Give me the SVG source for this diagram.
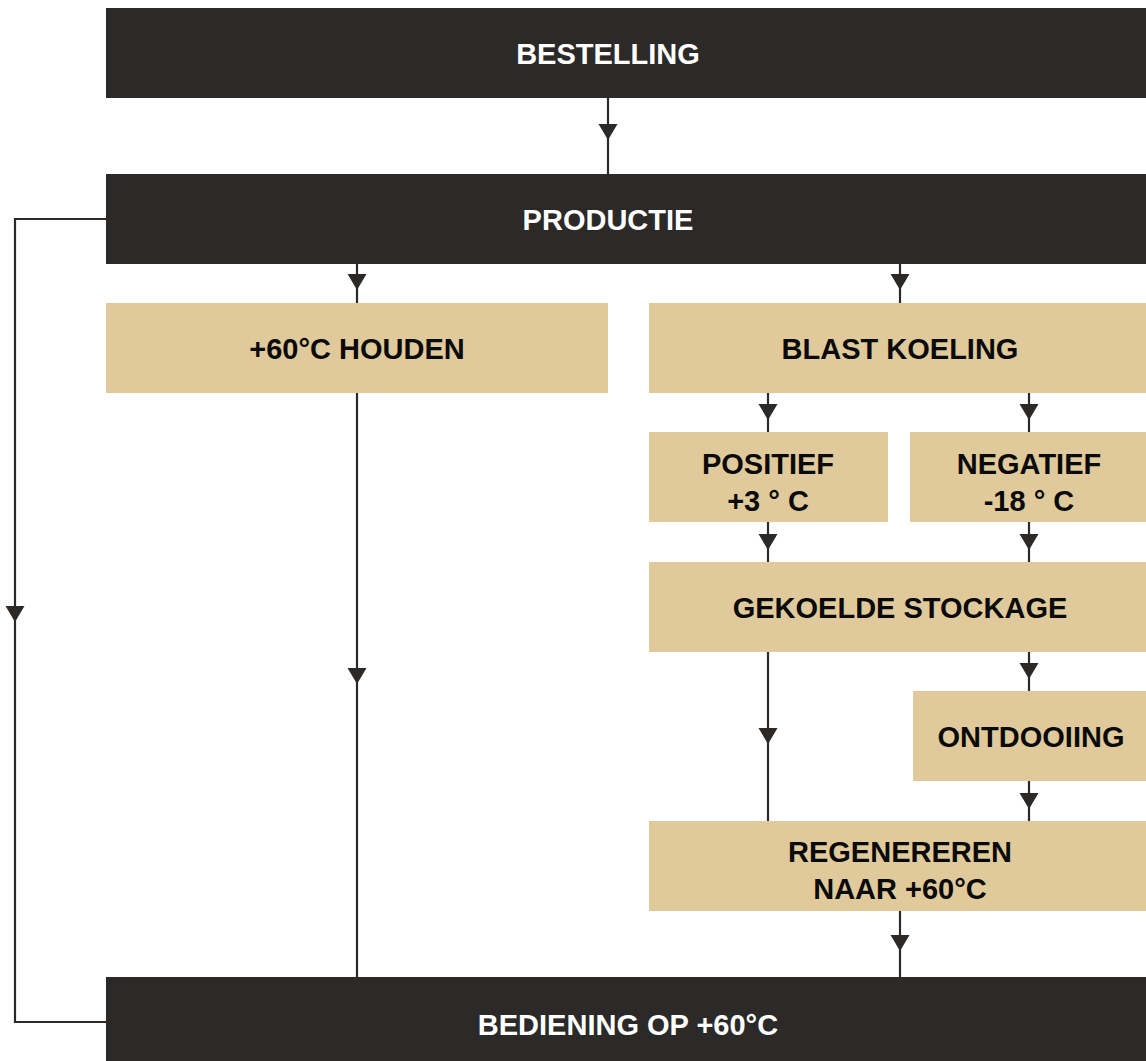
<svg xmlns="http://www.w3.org/2000/svg" width="1146" height="1061" viewBox="0 0 1146 1061">
<style>
.dark{fill:#2b2a28}
.tan{fill:#e0ca9b}
.lw{font-family:"Liberation Sans",Arial,sans-serif;font-weight:bold;font-size:29px;fill:#ffffff;text-anchor:middle}
.lb{font-family:"Liberation Sans",Arial,sans-serif;font-weight:bold;font-size:29px;fill:#0a0a0a;text-anchor:middle}
.ln{fill:none;stroke:#2b2a28;stroke-width:2.2}
</style>
<defs>
<path id="ah" d="M-9.5,-16 L9.5,-16 L0,0 Z" fill="#2b2a28"/>
</defs>
<rect width="1146" height="1061" fill="#ffffff"/>
<g id="connectors">
<line class="ln" x1="608" y1="98" x2="608" y2="174"/>
<use href="#ah" x="608" y="140"/>
<polyline class="ln" points="106,219 15,219 15,1022 106,1022"/>
<use href="#ah" x="15" y="622"/>
<line class="ln" x1="357" y1="264" x2="357" y2="303"/>
<use href="#ah" x="357" y="290"/>
<line class="ln" x1="900" y1="264" x2="900" y2="303"/>
<use href="#ah" x="900" y="290"/>
<line class="ln" x1="357" y1="393" x2="357" y2="977"/>
<use href="#ah" x="357" y="684"/>
<line class="ln" x1="768" y1="393" x2="768" y2="432"/>
<use href="#ah" x="768" y="420"/>
<line class="ln" x1="1029" y1="393" x2="1029" y2="432"/>
<use href="#ah" x="1029" y="420"/>
<line class="ln" x1="768" y1="522" x2="768" y2="562"/>
<use href="#ah" x="768" y="550"/>
<line class="ln" x1="1029" y1="522" x2="1029" y2="562"/>
<use href="#ah" x="1029" y="550"/>
<line class="ln" x1="768" y1="652" x2="768" y2="821"/>
<use href="#ah" x="768" y="744"/>
<line class="ln" x1="1029" y1="652" x2="1029" y2="691"/>
<use href="#ah" x="1029" y="679"/>
<line class="ln" x1="1029" y1="781" x2="1029" y2="821"/>
<use href="#ah" x="1029" y="809"/>
<line class="ln" x1="900" y1="911" x2="900" y2="977"/>
<use href="#ah" x="900" y="951"/>
</g>
<g id="bestelling"><rect class="dark" x="106" y="8" width="1040" height="90"/><text class="lw" x="608" y="64">BESTELLING</text></g>
<g id="productie"><rect class="dark" x="106" y="174" width="1040" height="90"/><text class="lw" x="608" y="230">PRODUCTIE</text></g>
<g id="houden"><rect class="tan" x="106" y="303" width="502" height="90"/><text class="lb" x="357" y="359">+60°C HOUDEN</text></g>
<g id="blast"><rect class="tan" x="649" y="303" width="497" height="90"/><text class="lb" x="900" y="359">BLAST KOELING</text></g>
<g id="positief"><rect class="tan" x="649" y="432" width="239" height="90"/><text class="lb" x="768" y="474">POSITIEF</text><text class="lb" x="768" y="511">+3 ° C</text></g>
<g id="negatief"><rect class="tan" x="910" y="432" width="236" height="90"/><text class="lb" x="1029" y="474">NEGATIEF</text><text class="lb" x="1029" y="511">-18 ° C</text></g>
<g id="gekoelde"><rect class="tan" x="649" y="562" width="497" height="90"/><text class="lb" x="900" y="618">GEKOELDE STOCKAGE</text></g>
<g id="ontdooiing"><rect class="tan" x="913" y="691" width="233" height="90"/><text class="lb" x="1031" y="747">ONTDOOIING</text></g>
<g id="regenereren"><rect class="tan" x="649" y="821" width="497" height="90"/><text class="lb" x="900" y="862">REGENEREREN</text><text class="lb" x="900" y="899">NAAR +60°C</text></g>
<g id="bediening"><rect class="dark" x="106" y="977" width="1040" height="84"/><text class="lw" x="628" y="1035">BEDIENING OP +60°C</text></g>
</svg>
